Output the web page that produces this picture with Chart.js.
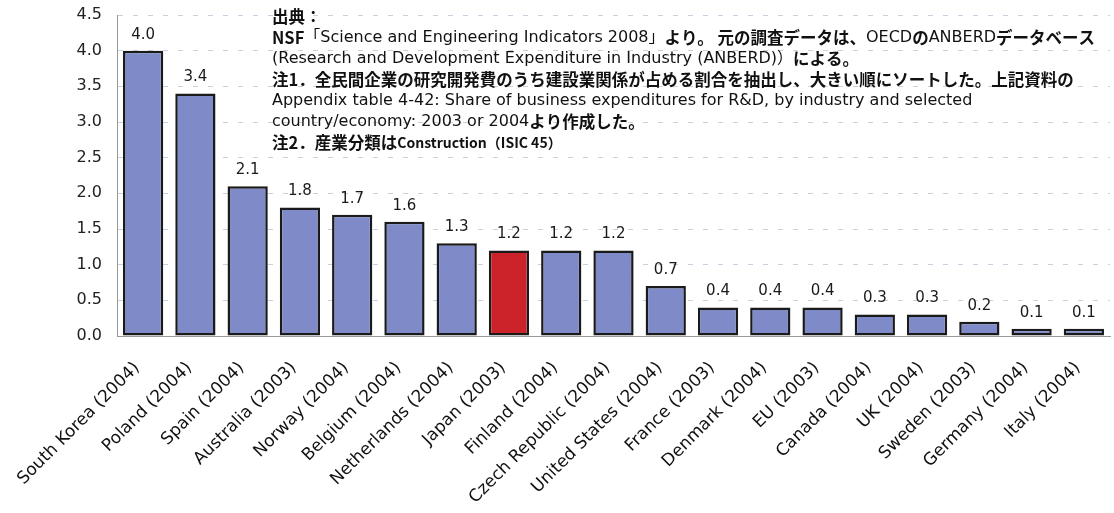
<!DOCTYPE html>
<html>
<head>
<meta charset="utf-8">
<script src="https://cdn.jsdelivr.net/npm/chart.js@4/dist/chart.umd.min.js"></script>
<style>
  html, body { margin: 0; padding: 0; background: #fff; }
  canvas { display: block; }
</style>
</head>
<body>
<canvas id="chart" width="1114" height="513"></canvas>
<script>
/* ===== DATA ===== */
const COUNTRIES = [
  "South Korea (2004)", "Poland (2004)", "Spain (2004)", "Australia (2003)",
  "Norway (2004)", "Belgium (2004)", "Netherlands (2004)", "Japan (2003)",
  "Finland (2004)", "Czech Republic (2004)", "United States (2004)",
  "France (2003)", "Denmark (2004)", "EU (2003)", "Canada (2004)",
  "UK (2004)", "Sweden (2003)", "Germany (2004)", "Italy (2004)"
];
// share of business R&D spent in construction (%)
const SHARE = [4.0, 3.4, 2.1, 1.8, 1.7, 1.6, 1.3, 1.2, 1.2, 1.2, 0.7, 0.4, 0.4, 0.4, 0.3, 0.3, 0.2, 0.1, 0.1];
const Y_TICKS = [0, 0.5, 1.0, 1.5, 2.0, 2.5, 3.0, 3.5, 4.0, 4.5];
const HIGHLIGHT = "Japan (2003)";

// note block: each line is a list of [text, bold]
const NOTE_LINES = [
  [["出典：", 1]],
  [["NSF", 1], ["「Science and Engineering Indicators 2008」", 0], ["より。 元の調査データは、", 1], ["OECD", 0], ["の", 1], ["ANBERD", 0], ["データベース", 1]],
  [["(Research and Development Expenditure in Industry (ANBERD)）", 0], ["による。", 1]],
  [["注1．全民間企業の研究開発費のうち建設業関係が占める割合を抽出し、大きい順にソートした。上記資料の", 1]],
  [["Appendix table 4-42: Share of business expenditures for R&D, by industry and selected", 0]],
  [["country/economy: 2003 or 2004", 0], ["より作成した。", 1]],
  [["注2．産業分類は", 1], ["Construction（ISIC 45）", 2]]
];
/* ================ */

const BAR_BLUE = "#7f8ac8";
const BAR_RED = "#cc2229";
const LATIN = "'DejaVu Sans', 'Noto Sans CJK JP', sans-serif";
const CJK = "'Noto Sans CJK JP', 'DejaVu Sans', sans-serif";
const NOTE_FONTS = ["16px " + LATIN, "bold 16.5px " + CJK, "bold 14px " + CJK];

// value above each bar
const valueLabels = {
  id: "valueLabels",
  afterDatasetsDraw(chart) {
    const ctx = chart.ctx;
    const meta = chart.getDatasetMeta(0);
    ctx.save();
    ctx.font = "15px " + LATIN;
    ctx.fillStyle = "#1a1a1a";
    ctx.textAlign = "center";
    ctx.textBaseline = "middle";
    meta.data.forEach((bar, i) => {
      ctx.fillText(SHARE[i].toFixed(1), bar.x, bar.y - 16);
    });
    ctx.restore();
  }
};

// source / notes text block, top right
const notes = {
  id: "notes",
  afterDraw(chart) {
    const ctx = chart.ctx;
    ctx.save();
    ctx.fillStyle = "#111";
    ctx.textBaseline = "middle";
    NOTE_LINES.forEach((line, li) => {
      let x = 272;
      const y = 17 + li * 21;
      line.forEach(([txt, style]) => {
        ctx.font = NOTE_FONTS[style];
        ctx.fillText(txt, x, y);
        x += ctx.measureText(txt).width;
      });
    });
    ctx.restore();
  }
};

new Chart(document.getElementById("chart"), {
  type: "bar",
  data: {
    labels: COUNTRIES,
    datasets: [{
      data: SHARE,
      backgroundColor: COUNTRIES.map((c) => (c === HIGHLIGHT ? BAR_RED : BAR_BLUE)),
      borderColor: "#1a1a1a",
      borderWidth: 2.5,
      borderSkipped: false,
      barPercentage: 0.77,
      categoryPercentage: 1.0
    }]
  },
  options: {
    responsive: false,
    animation: false,
    layout: { padding: { top: 15, right: 4, left: 0, bottom: 0 } },
    plugins: { legend: { display: false }, tooltip: { enabled: false } },
    scales: {
      x: {
        grid: { display: false },
        border: { display: true, color: "#999" },
        ticks: {
          autoSkip: false,
          maxRotation: 45,
          minRotation: 45,
          padding: 14,
          labelOffset: -6,
          color: "#111",
          font: { family: LATIN, size: 17 }
        },
        afterFit: (s) => { s.height = 177; }
      },
      y: {
        min: 0,
        max: 4.5,
        afterBuildTicks: (s) => { s.ticks = Y_TICKS.map((v) => ({ value: v })); },
        // ticks kept invisible: their length only spaces the labels from the axis
        grid: { color: "#c9d0e0", drawTicks: true, tickLength: 15, tickColor: "rgba(0,0,0,0)" },
        border: { display: true, color: "#999", dash: [5, 10] },
        ticks: {
          padding: 0,
          color: "#222",
          font: { family: LATIN, size: 16 },
          callback: (v) => Number(v).toFixed(1)
        },
        afterFit: (s) => { s.width = 117; }
      }
    }
  },
  plugins: [valueLabels, notes]
});
</script>
</body>
</html>
